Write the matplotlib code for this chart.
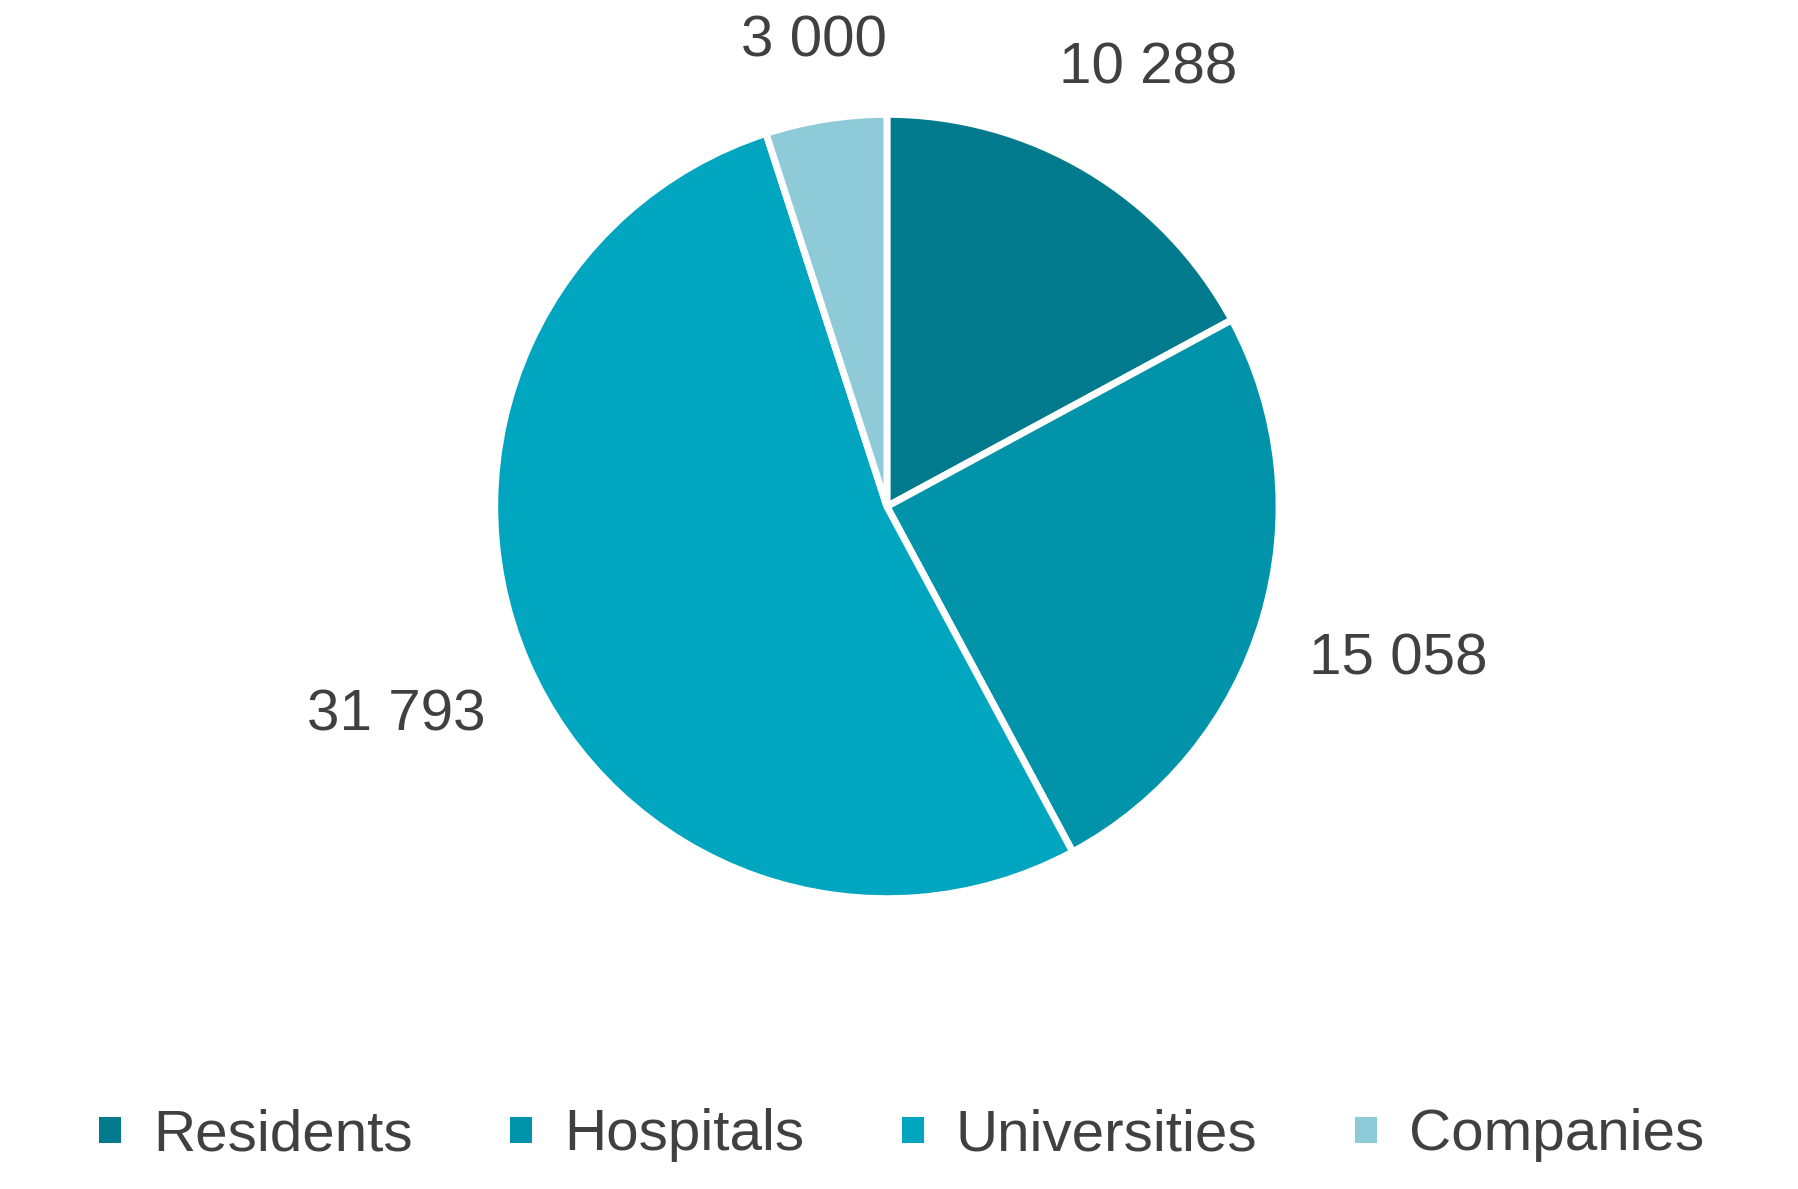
import matplotlib

matplotlib.use("Agg")
import numpy as np  # noqa: E402
import matplotlib.pyplot as plt  # noqa: E402

categories = ["Residents", "Hospitals", "Universities", "Companies"]
values = [10288, 15058, 31793, 3000]
label_dist = [1.3, 1.36, 1.36, 1.2]
colors = ["#007A8C", "#0093AA", "#00A6C0", "#8FCAD9"]
text_color = "#404040"

plt.rcParams["font.family"] = ["Liberation Sans", "DejaVu Sans"]

fig = plt.figure(figsize=(17.99, 11.89), dpi=100)
ax = fig.add_axes([0.493 - 0.218, 0.574 - 0.33, 0.436, 0.66])
wedges, _ = ax.pie(
    values,
    colors=colors,
    startangle=90,
    counterclock=False,
    wedgeprops=dict(edgecolor="white", linewidth=5, joinstyle="bevel"),
)
for w, v, d in zip(wedges, values, label_dist):
    ang = np.deg2rad((w.theta1 + w.theta2) / 2)
    ax.text(d * np.cos(ang), d * np.sin(ang), f"{v:,}".replace(",", " "),
            ha="center", va="center", fontsize=42, color=text_color)
ax.set_xlim(-1, 1)
ax.set_ylim(-1, 1)
ax.set_aspect("equal")

fig.legend(
    wedges,
    categories,
    loc="center",
    bbox_to_anchor=(0.5, 0.045),
    ncol=4,
    frameon=False,
    fontsize=42,
    labelcolor=text_color,
    handlelength=0.5,
    handleheight=0.5,
    handletextpad=0.5,
    columnspacing=1.6,
)
fig.savefig("out.png", dpi=100)
